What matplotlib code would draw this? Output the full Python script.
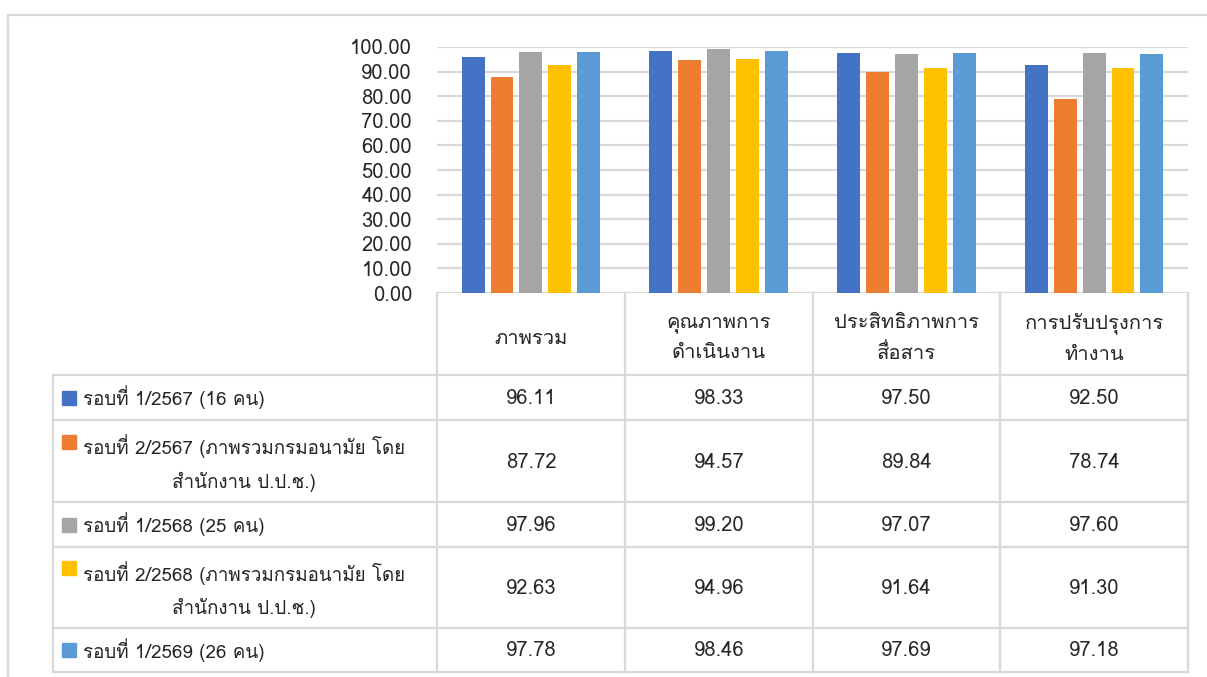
import numpy as np
import matplotlib.pyplot as plt
from matplotlib import font_manager
from matplotlib.ft2font import FT2Font

# look for an installed family that carries Thai glyphs
thai_fams = []
for f in font_manager.fontManager.ttflist:
    try:
        if 0x0E01 in FT2Font(f.fname).get_charmap() and f.name not in thai_fams:
            thai_fams.append(f.name)
    except Exception:
        pass

plt.rcParams['font.family'] = thai_fams + ['DejaVu Sans']

categories = ['ภาพรวม', 'คุณภาพการ\nดำเนินงาน', 'ประสิทธิภาพการ\nสื่อสาร', 'การปรับปรุงการ\nทำงาน']
series_names = ['รอบที่ 1/2567 (16 คน)',
                'รอบที่ 2/2567 (ภาพรวมกรมอนามัย โดย\nสำนักงาน ป.ป.ช.)',
                'รอบที่ 1/2568 (25 คน)',
                'รอบที่ 2/2568 (ภาพรวมกรมอนามัย โดย\nสำนักงาน ป.ป.ช.)',
                'รอบที่ 1/2569 (26 คน)']
r1_2567 = [96.11, 98.33, 97.50, 92.50]
r2_2567 = [87.72, 94.57, 89.84, 78.74]
r1_2568 = [97.96, 99.20, 97.07, 97.60]
r2_2568 = [92.63, 94.96, 91.64, 91.30]
r1_2569 = [97.78, 98.46, 97.69, 97.18]
series = [r1_2567, r2_2567, r1_2568, r2_2568, r1_2569]
colors = ['#4472C4', '#ED7D31', '#A5A5A5', '#FFC000', '#5B9BD5']
yticks = np.arange(0, 101, 10)

W, H = 1207, 677
fig = plt.figure(figsize=(W/100, H/100), dpi=100)

# overlay in pixel coords for frame + data table
tb = fig.add_axes([0, 0, 1, 1])
tb.set_xlim(0, W)
tb.set_ylim(H, 0)
tb.axis('off')

grey = '#D9D9D9'
txt = '#262626'
fs = 14.5

# chart area
x0, x1 = 437, 1188
y_top, y_bot = 47, 293
ax = fig.add_axes([x0/W, 1-y_bot/H, (x1-x0)/W, (y_bot-y_top)/H])
ax.patch.set_alpha(0)
x = np.arange(len(categories))
step, bw = 0.154, 0.122
for i, (vals, c) in enumerate(zip(series, colors)):
    ax.bar(x + (i-2)*step, vals, bw, color=c, zorder=3)
ax.set_xlim(-0.5, len(categories)-0.5)
ax.set_ylim(0, 100)
ax.set_yticks(yticks)
ax.set_yticklabels([f'{v:.2f}' for v in yticks], fontsize=fs, color=txt)
ax.tick_params(axis='y', length=0, pad=18)
ax.set_xticks([])
ax.yaxis.grid(True, color=grey, lw=1.6, zorder=0)
for s in ax.spines.values():
    s.set_visible(False)

# outer frame
tb.plot([7.5, W], [14.5, 14.5], color=grey, lw=1.6)
tb.plot([7.5, 7.5], [14.5, H], color=grey, lw=1.6)

# data table
col_edges = [437, 625, 813, 1000, 1188]
row_edges = [375, 420, 502, 547, 628, 672]
for xe in col_edges:
    tb.plot([xe, xe], [y_bot, row_edges[-1]], color=grey, lw=1.6)
tb.plot([53, 53], [row_edges[0], row_edges[-1]], color=grey, lw=1.6)
for ye in row_edges:
    tb.plot([53, 1188], [ye, ye], color=grey, lw=1.6)

for j, cat in enumerate(categories):
    cx = (col_edges[j] + col_edges[j+1]) / 2
    tb.text(cx, (y_bot + row_edges[0]) / 2 + 4, cat, ha='center', va='center',
            fontsize=fs, color=txt, linespacing=1.7, multialignment='center')

for i, (name, vals, c) in enumerate(zip(series_names, series, colors)):
    cy = (row_edges[i] + row_edges[i+1]) / 2
    two = '\n' in name
    sq = cy - 19.5 if two else cy
    tb.add_patch(plt.Rectangle((62, sq - 7), 14, 14, color=c))
    tb.text(83, cy + (2 if two else 0), name, ha='left', va='center', fontsize=13.5,
            color=txt, linespacing=1.85, multialignment='center')
    for j, v in enumerate(vals):
        cx = (col_edges[j] + col_edges[j+1]) / 2
        tb.text(cx, cy + 1, f'{v:.2f}', ha='center', va='center', fontsize=fs, color=txt)

fig.savefig('out.png', dpi=100)
